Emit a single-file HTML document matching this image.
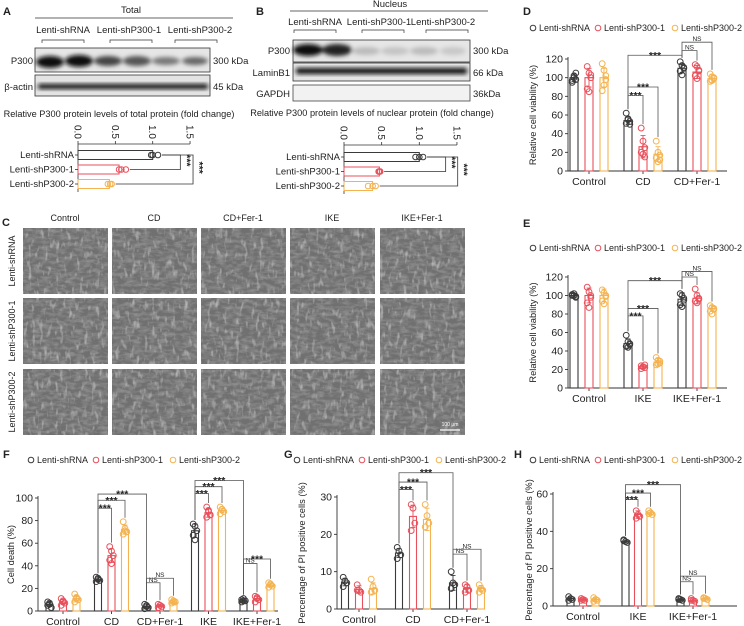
<!DOCTYPE html>
<html><head><meta charset="utf-8">
<style>
html,body{margin:0;padding:0;background:#fff;}
svg{display:block;font-family:"Liberation Sans",Arial,sans-serif;}
</style></head>
<body>
<svg id="fig" width="744" height="626" viewBox="0 0 744 626" xmlns="http://www.w3.org/2000/svg">
<defs>
<filter id="blur2" x="-20%" y="-50%" width="140%" height="200%"><feGaussianBlur stdDeviation="2.2"/></filter>
<filter id="cells" x="0" y="0" width="100%" height="100%">
<feTurbulence type="fractalNoise" baseFrequency="0.12 0.3" numOctaves="3" seed="3" result="n"/>
<feColorMatrix in="n" type="matrix" values="0 0 0 0 0.32  0 0 0 0 0.32  0 0 0 0 0.32  1.6 0 0 0 -0.6" result="d"/>
<feTurbulence type="fractalNoise" baseFrequency="0.25 0.1" numOctaves="2" seed="8" result="n2"/>
<feColorMatrix in="n2" type="matrix" values="0 0 0 0 0.68  0 0 0 0 0.68  0 0 0 0 0.68  1.6 0 0 0 -0.9" result="l"/>
<feMerge><feMergeNode in="SourceGraphic"/><feMergeNode in="d"/><feMergeNode in="l"/></feMerge>
</filter>
</defs>

<!-- Panel A -->
<g font-size="9.5" fill="#222">
<text x="3" y="15" font-size="11" font-weight="bold">A</text>
<text x="131" y="13" text-anchor="middle">Total</text>
<line x1="35" y1="18" x2="233" y2="18" stroke="#333" stroke-width="0.8"/>
<text x="63" y="33" text-anchor="middle">Lenti-shRNA</text>
<text x="129" y="33" text-anchor="middle">Lenti-shP300-1</text>
<text x="200" y="33" text-anchor="middle">Lenti-shP300-2</text>
<path d="M42 43V40H84V43M110 43V40H152V43M175 43V40H217V43" fill="none" stroke="#333" stroke-width="0.7"/>
<g>
<rect x="35" y="48" width="175" height="24" fill="#e6e6e6" stroke="#333" stroke-width="0.8"/>
<g filter="url(#blur2)">
<ellipse cx="50" cy="62" rx="14" ry="6" fill="#111"/><ellipse cx="79" cy="61" rx="14" ry="6" fill="#111"/>
<ellipse cx="108" cy="61" rx="14" ry="5" fill="#444"/><ellipse cx="137" cy="61" rx="14" ry="5" fill="#555"/>
<ellipse cx="166" cy="61" rx="14" ry="4" fill="#777"/><ellipse cx="195" cy="61" rx="13" ry="4" fill="#666"/>
</g></g>
<text x="33" y="64" text-anchor="end">P300</text>
<text x="213" y="64">300 kDa</text>
<g>
<rect x="35" y="75" width="175" height="21" fill="#e3e3e3" stroke="#333" stroke-width="0.8"/>
<g filter="url(#blur2)"><rect x="38" y="84" width="170" height="5" rx="2" fill="#111"/></g></g>
<text x="33" y="90" text-anchor="end">β-actin</text>
<text x="213" y="90">45 kDa</text>
<text x="119" y="117" text-anchor="middle" font-size="9.2">Relative P300 protein levels of total protein (fold change)</text>
<g id="hbarA"></g>
</g>

<!-- Panel B -->
<g font-size="9.5" fill="#222">
<text x="256" y="15" font-size="11" font-weight="bold">B</text>
<text x="390" y="7" text-anchor="middle">Nucleus</text>
<line x1="290" y1="11" x2="488" y2="11" stroke="#333" stroke-width="0.8"/>
<text x="315" y="25" text-anchor="middle">Lenti-shRNA</text>
<text x="379" y="25" text-anchor="middle">Lenti-shP300-1</text>
<text x="443" y="25" text-anchor="middle">Lenti-shP300-2</text>
<path d="M294 33V30H336V33M362 33V30H404V33M426 33V30H468V33" fill="none" stroke="#333" stroke-width="0.7"/>
<g>
<rect x="293" y="40" width="177" height="22" fill="#e6e6e6" stroke="#333" stroke-width="0.8"/>
<g filter="url(#blur2)">
<ellipse cx="308" cy="50" rx="15" ry="6" fill="#111"/><ellipse cx="337" cy="50" rx="15" ry="6" fill="#222"/>
<ellipse cx="366" cy="51" rx="14" ry="4" fill="#bbb"/><ellipse cx="395" cy="51" rx="14" ry="4" fill="#c4c4c4"/>
<ellipse cx="424" cy="51" rx="14" ry="4" fill="#bbb"/><ellipse cx="453" cy="51" rx="13" ry="4" fill="#c8c8c8"/>
</g></g>
<text x="290" y="54" text-anchor="end">P300</text>
<text x="473" y="54">300 kDa</text>
<g>
<rect x="293" y="63" width="177" height="18" fill="#e3e3e3" stroke="#333" stroke-width="0.8"/>
<g filter="url(#blur2)"><rect x="296" y="68" width="171" height="6" rx="2" fill="#111"/></g></g>
<text x="290" y="76" text-anchor="end">LaminB1</text>
<text x="473" y="76">66 kDa</text>
<rect x="293" y="85" width="177" height="16" fill="#f2f2f2" stroke="#444" stroke-width="0.8"/>
<text x="290" y="97" text-anchor="end">GAPDH</text>
<text x="473" y="97">36kDa</text>
<text x="372" y="116" text-anchor="middle" font-size="9.2">Relative P300 protein levels of nuclear protein (fold change)</text>
<g id="hbarB"></g>
</g>

<!-- Panel C -->
<g font-size="9" fill="#222">
<text x="2" y="226" font-size="11" font-weight="bold">C</text>
<g id="micro"></g>
</g>

<g id="charts"></g>
</svg>

<script>
// ---------------- DATA ----------------
const seriesNames = ["Lenti-shRNA", "Lenti-shP300-1", "Lenti-shP300-2"];
const seriesColors = ["#3a3a3a", "#e8505b", "#f4b350"];

// Panel A (total protein)
const aMeans = [1.0, 0.55, 0.42];
const aPoints = [[0.98, 1.0, 1.07], [0.55, 0.58, 0.64], [0.40, 0.43, 0.45]];
// Panel B (nuclear protein)
const bMeans = [1.0, 0.47, 0.38];
const bPoints = [[0.95, 1.0, 1.05], [0.46, 0.47, 0.48], [0.32, 0.38, 0.42]];
const hTicks = [0.0, 0.5, 1.0, 1.5];

// Panel C
const cColumns = ["Control", "CD", "CD+Fer-1", "IKE", "IKE+Fer-1"];
const cRows = ["Lenti-shRNA", "Lenti-shP300-1", "Lenti-shP300-2"];

// Panel D
const dGroups = ["Control", "CD", "CD+Fer-1"];
const dMeans = [[100, 100, 100], [54, 26, 18], [110, 106, 99]];
const dSds = [[4, 10, 10], [4, 12, 8], [5, 7, 4]];
const dPoints = [
  [[97,100,105,95,102,98],[112,105,100,88,85,103],[115,108,98,86,92,102]],
  [[62,56,53,51,55,50],[46,32,25,20,18,15],[32,20,17,14,10,12]],
  [[117,113,110,107,103,111],[114,112,107,102,99,108],[104,101,99,96,97,100]]];
const dTicks = [0, 20, 40, 60, 80, 100, 120];
const dBrackets = [[1,0,1,1,81,"***"],[1,0,1,2,90,"***"],[1,0,2,0,124,"***"],[2,0,2,1,129,"NS"],[2,0,2,2,138,"NS"]];

// Panel E
const eGroups = ["Control", "IKE", "IKE+Fer-1"];
const eMeans = [[100, 100, 100], [48, 23, 28], [96, 97, 86]];
const eSds = [[2, 8, 7], [5, 2, 4], [7, 6, 3]];
const ePoints = [
  [[101,100,99,100,102,98],[109,104,98,92,87,100],[106,103,99,94,91,100]],
  [[57,50,47,45,44,48],[24,23,22,21,23,25],[33,30,27,25,26,29]],
  [[102,100,95,90,88,97],[107,100,97,94,92,96],[89,87,85,83,80,86]]];
const eTicks = [0, 20, 40, 60, 80, 100, 120];
const eBrackets = [[1,0,1,1,78,"***"],[1,0,1,2,86,"***"],[1,0,2,0,116,"***"],[2,0,2,1,120,"NS"],[2,0,2,2,126,"NS"]];

// Panel F
const fGroups = ["Control", "CD", "CD+Fer-1", "IKE", "IKE+Fer-1"];
const fMeans = [[6, 8, 11], [28, 49, 72], [4, 5, 8], [71, 87, 89], [9, 11, 23]];
const fSds = [[2, 2, 3], [2, 6, 4], [2, 1, 1], [6, 4, 2], [1, 2, 1.5]];
const fPoints = [
  [[8,6,3,5,7],[11,9,7,5,8],[15,12,10,8,11]],
  [[30,28,27,26,29],[57,53,49,45,42],[79,73,70,68,71]],
  [[6,4,3,2,5],[6,5,4,3,5],[10,9,8,7,8]],
  [[77,75,71,67,63],[92,89,85,83,88],[92,90,88,86,90]],
  [[10,9,9,8,11],[13,12,10,8,11],[25,23,22,21,24]]];
const fTicks = [0, 20, 40, 60, 80, 100];
const fBrackets = [[1,0,1,1,91,"***"],[1,0,1,2,98,"***"],[1,0,2,0,103.5,"***"],[2,0,2,1,25,"NS"],[2,0,2,2,29,"NS"],
  [3,0,3,1,104,"***"],[3,0,3,2,110,"***"],[3,0,4,0,115.5,"***"],[4,0,4,1,42,"NS"],[4,0,4,2,46,"***"]];

// Panel G
const gGroups = ["Control", "CD", "CD+Fer-1"];
const gMeans = [[7.2, 5.2, 5.5], [15, 24.8, 24], [7, 5.5, 5.5]];
const gSds = [[1, 1, 1.5], [1.2, 3, 3], [2, 1, 0.8]];
const gPoints = [
  [[8.5,7.5,7,6],[6.5,5,4.5,5],[8,6,5,4.5]],
  [[16.5,15.5,14.5,13.5],[28,27,23,21],[28,25,23,22]],
  [[10,7,6.5,5.5],[6.5,6,5,4.5],[6.5,5.5,5,4.5]]];
const gTicks = [0, 10, 20, 30];
const gBrackets = [[1,0,1,1,32,"***"],[1,0,1,2,34,"***"],[1,0,2,0,36.5,"***"],[2,0,2,1,14.7,"NS"],[2,0,2,2,16,"NS"]];

// Panel H
const hGroups = ["Control", "IKE", "IKE+Fer-1"];
const hMeans = [[4, 3.5, 3.5], [34.5, 49, 50], [3.5, 3, 4]];
const hSds = [[1, 0.5, 1], [0.7, 2, 1], [0.5, 0.7, 0.5]];
const hPoints = [
  [[5,4,3.5,3],[4,3.5,3,3],[4.5,3.5,3,2.5]],
  [[35,34.5,34,35.5],[51,49,48,47],[51,50,49,49.5]],
  [[4,3.5,3,3.5],[4,3,2.5,3],[4.5,4,3.5,4]]];
const hTicksY = [0, 20, 40, 60];
const hBrackets = [[1,0,1,1,57,"***"],[1,0,1,2,60.5,"***"],[1,0,2,0,65,"***"],[2,0,2,1,13,"NS"],[2,0,2,2,16,"NS"]];

// ---------------- DRAWING ----------------
const NS = "http://www.w3.org/2000/svg";
function mk(parent, tag, attrs, text) {
  const e = document.createElementNS(NS, tag);
  for (const k in attrs) e.setAttribute(k, attrs[k]);
  if (text !== undefined) e.textContent = text;
  parent.appendChild(e);
  return e;
}

// Horizontal bar charts (A, B)
function hbar(root, cfg, means, points) {
  const xs = v => cfg.x0 + v * cfg.pxPer;
  const ys = i => cfg.yFirst + i * cfg.yStep;
  const ax = mk(root, "line", {x1: xs(0), y1: cfg.axisY, x2: xs(1.5), y2: cfg.axisY, stroke: "#333", "stroke-width": 0.8});
  
  
  mk(root, "line", {x1: xs(0), y1: cfg.axisY, x2: xs(0), y2: ys(2) + 8, stroke: "#333", "stroke-width": 0.8});
  hTicks.forEach(t => {
    mk(root, "line", {x1: xs(t), y1: cfg.axisY, x2: xs(t), y2: cfg.axisY - 3, stroke: "#333", "stroke-width": 0.8});
    const tl = mk(root, "text", {x: 0, y: 0, transform: `translate(${xs(t) - 3.5},${cfg.axisY - 19}) rotate(90)`, "font-size": 10}, t.toFixed(1));
    
    
  });
  means.forEach((m, i) => {
    const b = mk(root, "rect", {x: xs(0), y: ys(i) - 4.5, width: xs(m) - xs(0), height: 9, fill: "#fff", stroke: seriesColors[i], "stroke-width": 1});
    
    
    const lab = mk(root, "text", {x: xs(0) - 4, y: ys(i) + 3, "text-anchor": "end", "font-size": 9.5}, seriesNames[i]);
    
    
    mk(root, "line", {x1: xs(0) - 3, y1: ys(i), x2: xs(0), y2: ys(i), stroke: "#333", "stroke-width": 0.8});
    points[i].forEach(p => {
      const c = mk(root, "circle", {cx: xs(p), cy: ys(i), r: 2.8, fill: "none", stroke: seriesColors[i], "stroke-width": 1});
      
      
    });
  });
  const br = (i1, i2, v) => {
    const xb = xs(v);
    mk(root, "path", {d: `M${xs(Math.max(...points[i1])) + 4} ${ys(i1)}H${xb}V${ys(i2)}H${xs(Math.max(...points[i2])) + 4}`, fill: "none", stroke: "#333", "stroke-width": 0.8});
    const s = mk(root, "text", {x: 0, y: 0, transform: `translate(${xb + 3},${(ys(i1) + ys(i2)) / 2 - 8}) rotate(90)`, "font-size": 10.5, "font-weight": "bold"}, "***");
    
    
  };
  br(0, 1, cfg.inner);
  br(0, 2, cfg.outer);
}
hbar(document.getElementById("hbarA"), {x0: 78, pxPer: 74.7, axisY: 144, yFirst: 155, yStep: 14.5, inner: 1.37, outer: 1.54}, aMeans, aPoints);
hbar(document.getElementById("hbarB"), {x0: 344, pxPer: 75.3, axisY: 145, yFirst: 157, yStep: 14.5, inner: 1.35, outer: 1.51}, bMeans, bPoints);

// Microscopy grid (C)
(function () {
  const g = document.getElementById("micro");
  const colX = [23, 112, 201, 290, 380];
  const rowY = [228, 298, 369];
  cColumns.forEach((c, i) => {
    const t = mk(g, "text", {x: colX[i] + 42, y: 221, "text-anchor": "middle"}, c);
    
    
  });
  cRows.forEach((r, j) => {
    const t = mk(g, "text", {x: 0, y: 0, transform: `translate(15,${rowY[j] + 33}) rotate(-90)`, "text-anchor": "middle"}, r);
    
    
    colX.forEach((x, i) => {
      const im = mk(g, "rect", {x: x, y: rowY[j], width: 85, height: 66, fill: "#6f6f6f", filter: "url(#cells)"});
      
      
    });
  });
  mk(g, "line", {x1: 440, y1: 430, x2: 460, y2: 430, stroke: "#fff", "stroke-width": 1.2});
  mk(g, "text", {x: 450, y: 426, "text-anchor": "middle", "font-size": 5, fill: "#fff"}, "100 μm");
})();

// Vertical grouped bar charts
function vbar(cfg) {
  const root = mk(document.getElementById("charts"), "g", {"font-size": 9, fill: "#222"});
  
  
  const ymax = cfg.ticks[cfg.ticks.length - 1];
  const ys = v => cfg.y0 - v * (cfg.y0 - cfg.yTop) / ymax;
  const xg = g => cfg.x0 + cfg.offset + g * cfg.groupW;
  const xs = (g, s) => xg(g) + (s - 1) * cfg.spacing;
  const bw = cfg.barW;
  const lbl = mk(root, "text", {x: cfg.labelX, y: cfg.labelY, "font-size": 11, "font-weight": "bold"}, cfg.letter);
  
  
  let lx = cfg.legendX;
  seriesNames.forEach((n, i) => {
    const c = mk(root, "circle", {cx: lx, cy: cfg.legendY - 3, r: 2.8, fill: "none", stroke: seriesColors[i], "stroke-width": 1});
    
    
    const t = mk(root, "text", {x: lx + 6, y: cfg.legendY, "font-size": 9}, n);
    
    
    lx += (i === 0 ? 65 : 77);
  });
  const ya = mk(root, "line", {x1: cfg.x0, y1: ys(ymax) - 2, x2: cfg.x0, y2: cfg.y0, stroke: "#333", "stroke-width": 0.9});
  
  
  const xa = mk(root, "line", {x1: cfg.x0, y1: cfg.y0, x2: cfg.xEnd, y2: cfg.y0, stroke: "#333", "stroke-width": 0.9});
  
  
  cfg.ticks.forEach(t => {
    mk(root, "line", {x1: cfg.x0 - 3, y1: ys(t), x2: cfg.x0, y2: ys(t), stroke: "#333", "stroke-width": 0.9});
    const tl = mk(root, "text", {x: cfg.x0 - 5, y: ys(t) + 3.5, "text-anchor": "end", "font-size": 10.5}, t);
    
    
  });
  const yt = mk(root, "text", {x: 0, y: 0, transform: `translate(${cfg.titleX},${(cfg.y0 + ys(ymax)) / 2}) rotate(-90)`, "text-anchor": "middle", "font-size": 9.3}, cfg.title);
  
  
  cfg.groups.forEach((gname, g) => {
    mk(root, "line", {x1: xg(g), y1: cfg.y0, x2: xg(g), y2: cfg.y0 + 3, stroke: "#333", "stroke-width": 0.9});
    const t = mk(root, "text", {x: xg(g), y: cfg.y0 + 14, "text-anchor": "middle", "font-size": 10.5}, gname);
    
    
    cfg.means[g].forEach((m, s) => {
      const b = mk(root, "rect", {x: xs(g, s) - bw / 2, y: ys(m), width: bw, height: cfg.y0 - ys(m), fill: "#fff", stroke: seriesColors[s], "stroke-width": 1.1});
      
      
      const sd = cfg.sds[g][s];
      const x = xs(g, s);
      const eb = mk(root, "path", {d: `M${x} ${ys(m - sd)}V${ys(m + sd)}M${x - 2.5} ${ys(m + sd)}H${x + 2.5}M${x - 2.5} ${ys(m - sd)}H${x + 2.5}`, fill: "none", stroke: seriesColors[s], "stroke-width": 0.9});
      
      
      cfg.points[g][s].forEach((p, k) => {
        const c = mk(root, "circle", {cx: x + ((k % 3) - 1) * 1.8, cy: ys(p), r: 2.9, fill: "none", stroke: seriesColors[s], "stroke-width": 1});
        
        
      });
    });
  });
  cfg.brackets.forEach(([g1, s1, g2, s2, lev, lab]) => {
    const x1 = xs(g1, s1), x2 = xs(g2, s2), yl = ys(lev);
    const top1 = ys(Math.max(...cfg.points[g1][s1], cfg.means[g1][s1] + cfg.sds[g1][s1])) - 4;
    const top2 = ys(Math.max(...cfg.points[g2][s2], cfg.means[g2][s2] + cfg.sds[g2][s2])) - 4;
    const p = mk(root, "path", {d: `M${x1} ${top1}V${yl}H${x2}V${top2}`, fill: "none", stroke: "#555", "stroke-width": 0.8});
    
    
    const isNS = lab === "NS";
    const t = mk(root, "text", {x: (x1 + x2) / 2, y: yl - (isNS ? 1 : -3.5), "text-anchor": "middle", "font-size": isNS ? 6.5 : 10.5, "font-weight": isNS ? "normal" : "bold"}, lab);
    
    
  });
}

vbar({name: "panel-d", letter: "D", labelX: 523, labelY: 15, legendX: 533, legendY: 31, x0: 568, xEnd: 727, y0: 171, yTop: 59,
  offset: 21, groupW: 54, spacing: 15, barW: 8, titleX: 536, title: "Relative cell viability (%)",
  groups: dGroups, means: dMeans, sds: dSds, points: dPoints, ticks: dTicks, brackets: dBrackets});
vbar({name: "panel-e", letter: "E", labelX: 523, labelY: 227, legendX: 533, legendY: 251, x0: 568, xEnd: 727, y0: 388, yTop: 277,
  offset: 21, groupW: 54, spacing: 15, barW: 8, titleX: 536, title: "Relative cell viability (%)",
  groups: eGroups, means: eMeans, sds: eSds, points: ePoints, ticks: eTicks, brackets: eBrackets});
vbar({name: "panel-f", letter: "F", labelX: 3, labelY: 458, legendX: 31, legendY: 463, x0: 38, xEnd: 278, y0: 611, yTop: 498,
  offset: 25, groupW: 48.5, spacing: 13.5, barW: 7, titleX: 14, title: "Cell death (%)",
  groups: fGroups, means: fMeans, sds: fSds, points: fPoints, ticks: fTicks, brackets: fBrackets});
vbar({name: "panel-g", letter: "G", labelX: 284, labelY: 458, legendX: 297, legendY: 463, x0: 337, xEnd: 483, y0: 609, yTop: 497,
  offset: 22, groupW: 54, spacing: 14, barW: 7, titleX: 305, title: "Percentage of PI positive cells (%)",
  groups: gGroups, means: gMeans, sds: gSds, points: gPoints, ticks: gTicks, brackets: gBrackets});
vbar({name: "panel-h", letter: "H", labelX: 514, labelY: 458, legendX: 533, legendY: 463, x0: 553, xEnd: 737, y0: 606, yTop: 494,
  offset: 30, groupW: 55, spacing: 12.5, barW: 7, titleX: 532, title: "Percentage of PI positive cells (%)",
  groups: hGroups, means: hMeans, sds: hSds, points: hPoints, ticks: hTicksY, brackets: hBrackets});
</script>
</body></html>
